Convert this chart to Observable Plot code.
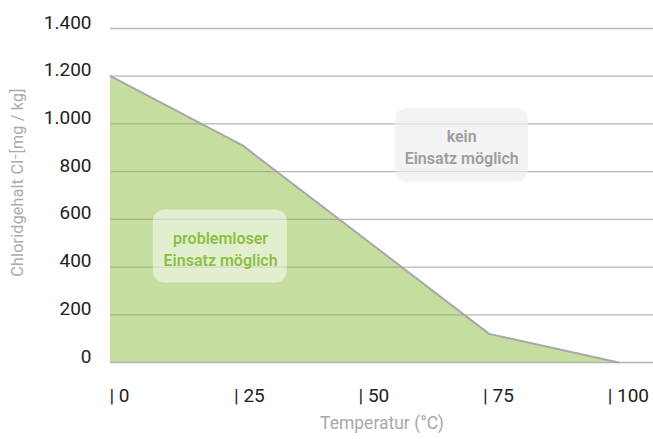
<!DOCTYPE html>
<html>
<head>
<meta charset="utf-8">
<script src="https://cdn.jsdelivr.net/npm/d3@7"></script>
<script src="https://cdn.jsdelivr.net/npm/@observablehq/plot@0.6"></script>
<style>
  html, body { margin: 0; padding: 0; background: #fff; }
  #chart svg { display: block; font-family: Roboto, "Open Sans", sans-serif; }
  #chart svg g[aria-label="y-axis tick label"] text,
  #chart svg g[aria-label="x-axis tick label"] text { font-family: "Liberation Sans Narrow", Roboto, sans-serif; }
</style>
</head>
<body>
<div id="chart"></div>
<script>
// Data
const temperature = [0, 26.5, 76, 102];      // °C
const chloride = [1200, 910, 120, 0];         // mg/kg
const xTicks = [0, 25, 50, 75, 100];
const yTicks = [0, 200, 400, 600, 800, 1000, 1200, 1400];
const xLabel = "Temperatur (°C)";
const yLabel = "Chloridgehalt Cl⁻[mg / kg]";
const zoneLabels = ["problemloser\nEinsatz möglich", "kein\nEinsatz möglich"];
// zone boxes in data units (x1, x2, y1, y2) and their label anchor
const zoneX1 = [8.6, 57.2];
const zoneX2 = [35.5, 83.9];
const zoneY1 = [333, 756];
const zoneY2 = [639, 1066];
const zoneTx = [22.1, 70.5];
const zoneTy = [480, 907];

const curve = temperature.map((t, i) => ({t, c: chloride[i]}));
const zones = zoneLabels.map((label, i) => ({
  label, x1: zoneX1[i], x2: zoneX2[i], y1: zoneY1[i], y2: zoneY2[i], tx: zoneTx[i], ty: zoneTy[i]
}));

const de = d3.formatLocale({decimal: ",", thousands: ".", grouping: [3], currency: ["", "€"]});
const fmt = de.format(",");

const chart = Plot.plot({
  width: 653,
  height: 439,
  marginLeft: 110,
  marginRight: 0,
  marginTop: 28,
  marginBottom: 77,
  x: {domain: [0, 109]},
  y: {domain: [0, 1400]},
  marks: [
    Plot.areaY(curve, {x: "t", y: "c", fill: "#c5de9e"}),
    Plot.gridY(yTicks.filter(d => d > 0), {stroke: "#9a9a9a", strokeOpacity: 0.7, strokeWidth: 1.3}),
    Plot.ruleY([0], {stroke: "#b3b3b3", strokeWidth: 1.5}),
    Plot.lineY(curve, {x: "t", y: "c", stroke: "#a8a8a8", strokeWidth: 2}),
    Plot.rect(zones, {x1: "x1", x2: "x2", y1: "y1", y2: "y2",
      fill: (d, i) => i === 0 ? "#ffffff" : "#eceeec",
      fillOpacity: (d, i) => i === 0 ? 0.5 : 0.7, rx: 12}),
    Plot.text(zones, {x: "tx", y: "ty", text: "label", lineHeight: 1.35,
      fill: (d, i) => i === 0 ? "#8dbf42" : "#9d9d9d", fontSize: 16, fontWeight: 600}),
    Plot.axisY(yTicks, {tickSize: 0, tickPadding: 19, tickFormat: fmt, fontSize: 19, fill: "#222", dy: -6, label: null}),
    Plot.axisX(xTicks, {tickSize: 0, tickPadding: 0, tickFormat: d => "| " + d, textAnchor: "start",
      lineAnchor: "middle", dy: 33, dx: -1, fontSize: 19, fill: "#222", label: null}),
    Plot.text([xLabel], {frameAnchor: "bottom", dy: 66, fontSize: 17.5, fill: "#a8a8a8"}),
    Plot.text([yLabel], {frameAnchor: "left", rotate: -90, textAnchor: "middle", dx: -93, dy: -13,
      fontSize: 16, fill: "#ababab", lineAnchor: "middle"})
  ]
});
chart.querySelectorAll("text").forEach(t => {
  if (t.textContent.startsWith("Chloridgehalt")) t.setAttribute("letter-spacing", "0.25");
});
document.getElementById("chart").appendChild(chart);
</script>
</body>
</html>
